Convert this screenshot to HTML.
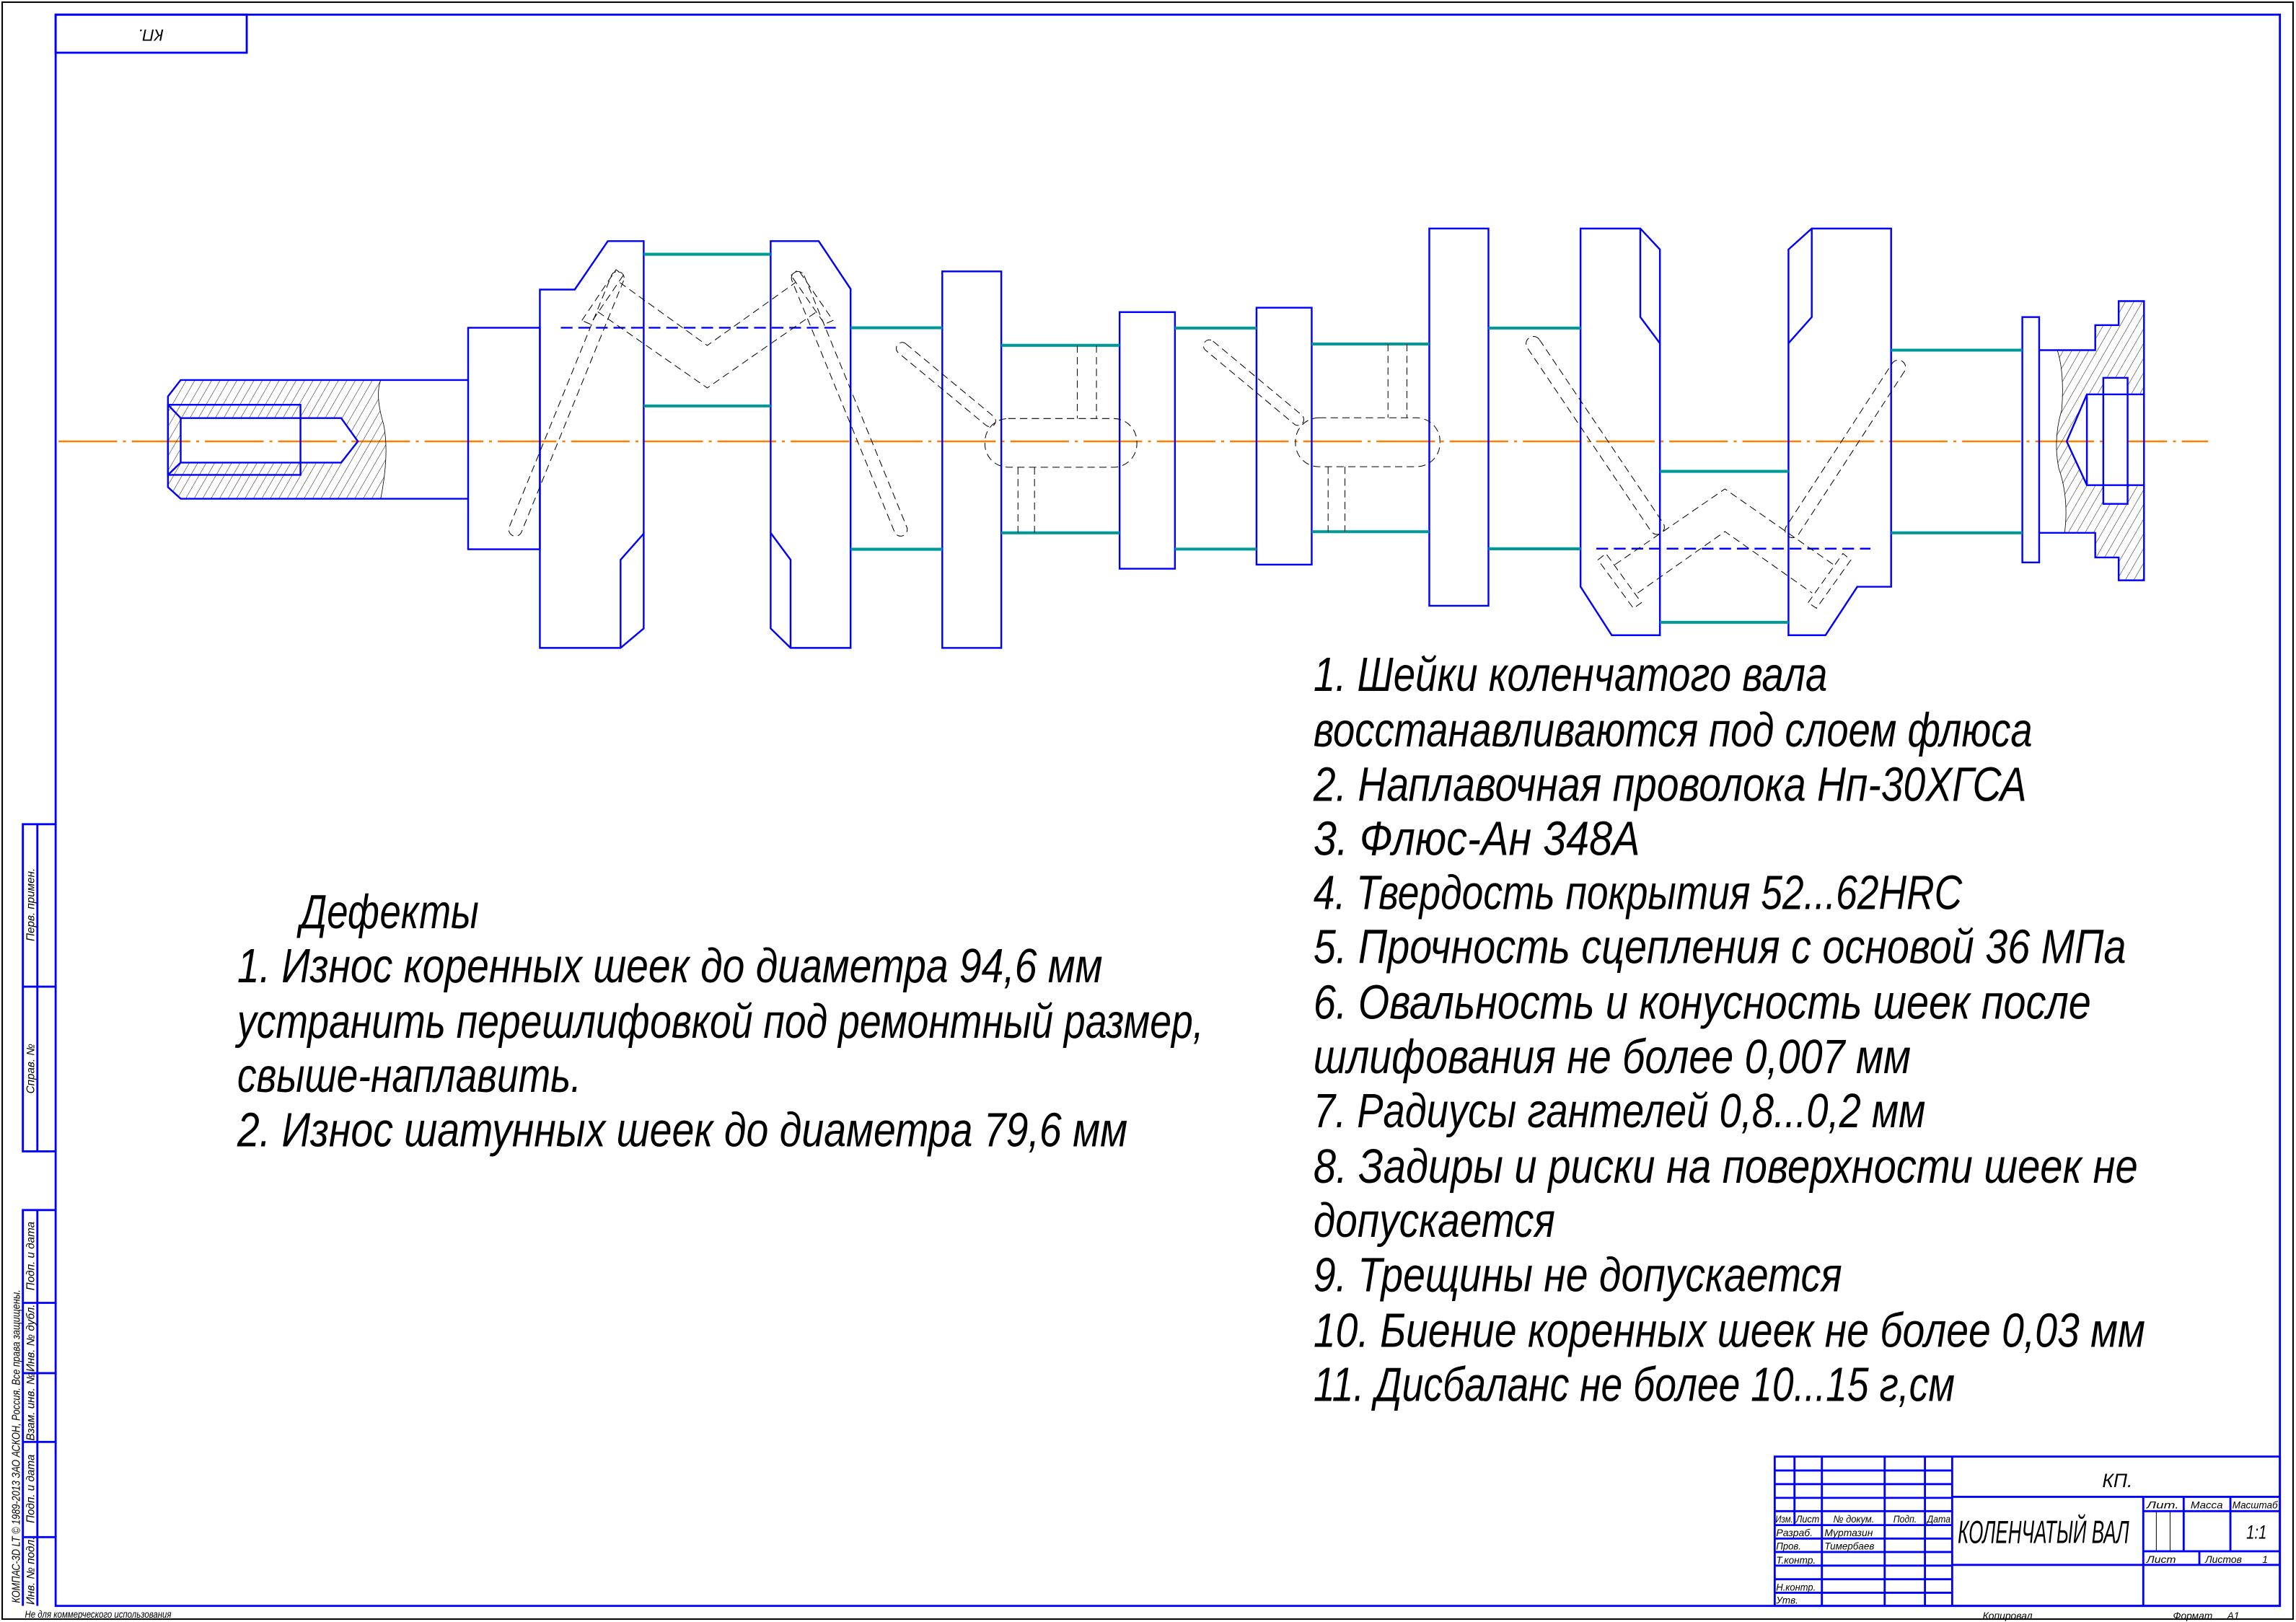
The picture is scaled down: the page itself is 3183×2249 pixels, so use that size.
<!DOCTYPE html>
<html><head><meta charset="utf-8"><style>
html,body{margin:0;padding:0;background:#fff;}
svg{display:block;}
text{font-family:"Liberation Sans","DejaVu Sans",sans-serif;font-style:italic;fill:#000;}
</style></head><body>
<svg xmlns="http://www.w3.org/2000/svg" width="3183" height="2249" viewBox="0 0 1568 1108" preserveAspectRatio="none">
<defs>
<pattern id="h" patternUnits="userSpaceOnUse" width="5" height="5" patternTransform="rotate(30)">
<line x1="0" y1="0" x2="0" y2="5" stroke="#000" stroke-width="0.45"/>
</pattern>
</defs>
<rect x="0" y="0" width="1568" height="1108" fill="#fff"/>
<rect x="1.5" y="1.5" width="1564.5" height="1104.5" fill="none" stroke="#000" stroke-width="1"/>
<g fill="none" stroke="#0000ff" stroke-width="1.4">
<rect x="38" y="10" width="1519" height="1087"/>
<rect x="38" y="10" width="130.5" height="26"/>
<polyline points="38,563 15.6,563 15.6,786.5 38,786.5"/>
<line x1="25.5" y1="563" x2="25.5" y2="786.5"/>
<line x1="15.6" y1="674" x2="38" y2="674"/>
<polyline points="38,826.6 15.6,826.6 15.6,1097"/>
<line x1="25.5" y1="826.6" x2="25.5" y2="1097"/>
<line x1="15.6" y1="890" x2="38" y2="890"/>
<line x1="15.6" y1="938" x2="38" y2="938"/>
<line x1="15.6" y1="985" x2="38" y2="985"/>
<line x1="15.6" y1="1050" x2="38" y2="1050"/>
<rect x="1212" y="995" width="345" height="102"/>
<line x1="1225.5" y1="995" x2="1225.5" y2="1041.8"/>
<line x1="1244.2" y1="995" x2="1244.2" y2="1097"/>
<line x1="1287.1" y1="995" x2="1287.1" y2="1097"/>
<line x1="1314.6" y1="995" x2="1314.6" y2="1097"/>
<line x1="1333.2" y1="995" x2="1333.2" y2="1097"/>
<line x1="1212" y1="1004.5" x2="1333.2" y2="1004.5"/>
<line x1="1212" y1="1013.8" x2="1333.2" y2="1013.8"/>
<line x1="1212" y1="1023.2" x2="1333.2" y2="1023.2"/>
<line x1="1212" y1="1032.3" x2="1333.2" y2="1032.3"/>
<line x1="1212" y1="1041.8" x2="1333.2" y2="1041.8"/>
<line x1="1212" y1="1051" x2="1333.2" y2="1051"/>
<line x1="1212" y1="1060.2" x2="1333.2" y2="1060.2"/>
<line x1="1212" y1="1069.5" x2="1333.2" y2="1069.5"/>
<line x1="1212" y1="1078.8" x2="1333.2" y2="1078.8"/>
<line x1="1212" y1="1088" x2="1333.2" y2="1088"/>
<line x1="1333.2" y1="1022.5" x2="1557" y2="1022.5"/>
<line x1="1333.2" y1="1069" x2="1557" y2="1069"/>
<line x1="1463.7" y1="1022.5" x2="1463.7" y2="1097"/>
<line x1="1491.3" y1="1022.5" x2="1491.3" y2="1059.7"/>
<line x1="1523.2" y1="1022.5" x2="1523.2" y2="1059.7"/>
<line x1="1463.7" y1="1032.3" x2="1557" y2="1032.3"/>
<line x1="1463.7" y1="1059.7" x2="1557" y2="1059.7"/>
<line x1="1502" y1="1059.7" x2="1502" y2="1069"/>
</g>
<g fill="none" stroke="#000" stroke-width="0.5">
<line x1="1472.6" y1="1032.3" x2="1472.6" y2="1059.7"/>
<line x1="1482" y1="1032.3" x2="1482" y2="1059.7"/>
</g>

<line x1="40" y1="301.5" x2="1508" y2="301.5" stroke="#ff8000" stroke-width="1.2" stroke-dasharray="40,4,2,4"/>

<path d="M114.7,270.8 L123.4,259.6 L260,259.6 Q256,270 262,290 Q266,310 260,340.7 L123.4,340.7 L114.7,332.8 Z M123.4,285.6 L233,285.6 L244.4,301.5 L233,316 L123.4,316 Z" fill="url(#h)" fill-rule="evenodd" stroke="none"/>
<path d="M260,259.6 Q256,270 262,290 Q266,310 260,340.7" fill="none" stroke="#000" stroke-width="0.4"/>
<g fill="none" stroke="#0000ff" stroke-width="1.2">
<polyline points="319.7,259.6 123.4,259.6 114.7,270.8 114.7,332.8 123.4,340.7 319.7,340.7"/>
<rect x="114.7" y="276.5" width="90.5" height="47.9"/>
<polyline points="123.4,285.6 233,285.6 244.4,301.5 233,316 123.4,316 123.4,285.6"/>
<line x1="114.7" y1="276.5" x2="123.4" y2="285.6"/>
<line x1="114.7" y1="324.4" x2="123.4" y2="316"/>
<rect x="319.7" y="223.9" width="49" height="151.3"/>
<polygon points="368.7,197.8 392.5,197.8 415.1,164.7 439.6,164.7 439.6,429.3 423.8,442.6 368.7,442.6"/>
<polyline points="423.8,442.6 423.8,382.4 439.6,364.5"/>
<polygon points="526.3,164.7 559.1,164.7 580.9,197.4 580.9,442.6 539.9,442.6 526.3,429.3"/>
<polyline points="539.9,442.6 539.9,382.4 526.3,364"/>
<rect x="643.5" y="185.4" width="40.3" height="257.2"/>
<rect x="764.6" y="213.2" width="37.8" height="175.3"/>
<rect x="858.1" y="210.2" width="37.7" height="175.5"/>
<rect x="976.1" y="156.1" width="40.4" height="257.7"/>
<polygon points="1079.4,156.1 1120.2,156.1 1133.6,170.4 1133.6,433.9 1100.7,433.9 1079.4,400.8"/>
<polyline points="1120.2,156.1 1120.2,216.6 1133.6,234.5"/>
<polygon points="1237.3,156.1 1291.5,156.1 1291.5,400.8 1268.4,400.8 1246.7,433.9 1221.4,433.9 1221.4,170.4"/>
<polyline points="1237.3,156.1 1237.3,216.6 1221.4,234.5"/>
<rect x="1381.1" y="216.6" width="11.5" height="167.6"/>
</g>
<g stroke="#0000ff" stroke-width="1.2" stroke-dasharray="8,4">
<line x1="383" y1="223.9" x2="570.8" y2="223.9"/>
<line x1="1090.2" y1="374.8" x2="1277.4" y2="374.8"/>
</g>
<g stroke="#009999" stroke-width="2">
<line x1="439.6" y1="173.7" x2="526.3" y2="173.7"/>
<line x1="439.6" y1="277.3" x2="526.3" y2="277.3"/>
<line x1="580.9" y1="223.9" x2="643.5" y2="223.9"/>
<line x1="580.9" y1="375.2" x2="643.5" y2="375.2"/>
<line x1="683.8" y1="235.9" x2="764.6" y2="235.9"/>
<line x1="683.8" y1="364" x2="764.6" y2="364"/>
<line x1="802.4" y1="224.1" x2="858.1" y2="224.1"/>
<line x1="802.4" y1="375.1" x2="858.1" y2="375.1"/>
<line x1="895.8" y1="235" x2="976.1" y2="235"/>
<line x1="895.8" y1="363.2" x2="976.1" y2="363.2"/>
<line x1="1016.5" y1="224.1" x2="1079.4" y2="224.1"/>
<line x1="1016.5" y1="374.9" x2="1079.4" y2="374.9"/>
<line x1="1133.6" y1="322" x2="1221.4" y2="322"/>
<line x1="1133.6" y1="425.1" x2="1221.4" y2="425.1"/>
<line x1="1291.5" y1="239.2" x2="1381.1" y2="239.2"/>
<line x1="1291.5" y1="364" x2="1381.1" y2="364"/>
</g>

<path d="M1405,239.2 L1430.9,239.2 L1430.9,222.1 L1446.9,222.1 L1446.9,205.7 L1464.2,205.7 L1464.2,396.4 L1446.9,396.4 L1446.9,380.8 L1430.9,380.8 L1430.9,364 L1410,364 Q1413,340 1406,320 Q1402,300 1408,280 Q1410,255 1405,239.2 Z M1425.2,269.4 L1464.2,269.4 L1464.2,331.4 L1425.2,331.4 L1411.4,301.5 Z" fill="url(#h)" fill-rule="evenodd" stroke="none"/>
<path d="M1410,364 Q1413,340 1406,320 Q1402,300 1408,280 Q1410,255 1405,239.2" fill="none" stroke="#000" stroke-width="0.4"/>
<rect x="1436.4" y="258.1" width="16.6" height="86.1" fill="#fff"/>
<g fill="none" stroke="#0000ff" stroke-width="1.2">
<polyline points="1392.6,239.2 1430.9,239.2 1430.9,222.1 1446.9,222.1 1446.9,205.7 1464.2,205.7 1464.2,396.4 1446.9,396.4 1446.9,380.8 1430.9,380.8 1430.9,364 1392.6,364"/>
<polyline points="1464.2,269.4 1425.2,269.4 1411.4,301.5 1425.2,331.4 1464.2,331.4"/>
<line x1="1425.2" y1="269.4" x2="1425.2" y2="331.4"/>
<rect x="1436.4" y="258.1" width="16.6" height="86.1"/>
</g>

<g fill="none" stroke="#000" stroke-width="0.5" stroke-dasharray="5,3">
<rect x="0" y="-4.5" width="194.4" height="9" rx="4.5" transform="translate(423.4,185.8) rotate(112.1)"/>
<rect x="0" y="-4.5" width="194.5" height="9" rx="4.5" transform="translate(543.3,185.8) rotate(67.8)"/>
<rect x="0" y="-4" width="85.7" height="8" rx="4" transform="translate(613,235.4) rotate(39.6)"/>
<rect x="0" y="-4" width="86.8" height="8" rx="4" transform="translate(822.8,233.6) rotate(39.8)"/>
<rect x="0" y="-5" width="161" height="10" rx="5" transform="translate(1044.4,230.7) rotate(56)"/>
<rect x="0" y="-5" width="142.7" height="10" rx="5" transform="translate(1299.1,246.8) rotate(123)"/>
<polygon points="397.4,218.9 420.7,184.2 425.6,188.1 403,221.4"/>
<polygon points="540.2,188.1 545.1,184.2 568.9,218.9 563.2,221.4"/>
<polyline points="423.3,193 483,236 543.2,193"/>
<polyline points="408.3,213 483,265 557.6,213"/>
<polygon points="1091.3,382.5 1096.7,378.1 1121,411.7 1115.5,415.5"/>
<polygon points="1234.8,411.7 1258.6,378.1 1264,382.5 1240.5,415.5"/>
<polyline points="1102.9,385.7 1178,334 1252.1,385.7"/>
<polyline points="1118.4,405.1 1178,363.1 1237.6,405.1"/>
<rect x="672.6" y="285.9" width="103.8" height="33.3" rx="16"/>
<rect x="884.7" y="285.4" width="98.7" height="33.4" rx="16"/>
<line x1="735.7" y1="235.9" x2="735.7" y2="285.9"/>
<line x1="748.8" y1="235.9" x2="748.8" y2="285.9"/>
<line x1="695.2" y1="319.2" x2="695.2" y2="364"/>
<line x1="706.5" y1="319.2" x2="706.5" y2="364"/>
<line x1="947.9" y1="235" x2="947.9" y2="285.4"/>
<line x1="960.8" y1="235" x2="960.8" y2="285.4"/>
<line x1="907" y1="318.8" x2="907" y2="363.2"/>
<line x1="918.5" y1="318.8" x2="918.5" y2="363.2"/>
</g>

<text x="103" y="23" font-size="11" text-anchor="middle" transform="rotate(180 103 23)" dominant-baseline="middle">КП.</text>

<g font-size="7.5" text-anchor="middle">
<text transform="translate(23.5,618) rotate(-90)">Перв. примен.</text>
<text transform="translate(23.5,730) rotate(-90)">Справ. №</text>
<text transform="translate(23.5,858) rotate(-90)">Подп. и дата</text>
<text transform="translate(23.5,914) rotate(-90)">Инв. № дубл.</text>
<text transform="translate(23.5,961) rotate(-90)">Взам. инв. №</text>
<text transform="translate(23.5,1017) rotate(-90)">Подп. и дата</text>
<text transform="translate(23.5,1073) rotate(-90)">Инв. № подл.</text>
<text transform="translate(13.5,988) rotate(-90)" textLength="214" lengthAdjust="spacingAndGlyphs">КОМПАС-3D LT © 1989-2013 ЗАО АСКОН, Россия. Все права защищены.</text>
</g>
<text x="17" y="1105" font-size="7" textLength="100" lengthAdjust="spacingAndGlyphs">Не для коммерческого использования</text>

<g font-size="6.8">
<text x="1212.5" y="1040" textLength="12" lengthAdjust="spacingAndGlyphs">Изм.</text>
<text x="1226.5" y="1040" textLength="16" lengthAdjust="spacingAndGlyphs">Лист</text>
<text x="1252" y="1040" textLength="28" lengthAdjust="spacingAndGlyphs">№ докум.</text>
<text x="1293" y="1040" textLength="16" lengthAdjust="spacingAndGlyphs">Подп.</text>
<text x="1316" y="1040" textLength="16" lengthAdjust="spacingAndGlyphs">Дата</text>
<text x="1213" y="1049.5" textLength="25" lengthAdjust="spacingAndGlyphs">Разраб.</text>
<text x="1246" y="1049.5" textLength="33" lengthAdjust="spacingAndGlyphs">Муртазин</text>
<text x="1213" y="1058.5" textLength="17" lengthAdjust="spacingAndGlyphs">Пров.</text>
<text x="1246" y="1058.5" textLength="34" lengthAdjust="spacingAndGlyphs">Тимербаев</text>
<text x="1213" y="1068" textLength="27" lengthAdjust="spacingAndGlyphs">Т.контр.</text>
<text x="1213" y="1086.5" textLength="27" lengthAdjust="spacingAndGlyphs">Н.контр.</text>
<text x="1213" y="1095.5" textLength="15" lengthAdjust="spacingAndGlyphs">Утв.</text>
<text x="1466" y="1030.5" textLength="22" lengthAdjust="spacingAndGlyphs">Лит.</text>
<text x="1496" y="1030.5" textLength="22" lengthAdjust="spacingAndGlyphs">Масса</text>
<text x="1524.5" y="1030.5" textLength="31" lengthAdjust="spacingAndGlyphs">Масштаб</text>
<text x="1466" y="1067.5" textLength="20" lengthAdjust="spacingAndGlyphs">Лист</text>
<text x="1506" y="1067.5" textLength="25" lengthAdjust="spacingAndGlyphs">Листов</text>
<text x="1545" y="1067.5">1</text>
<text x="1354" y="1106" textLength="34" lengthAdjust="spacingAndGlyphs">Копировал</text>
<text x="1484" y="1106" textLength="27" lengthAdjust="spacingAndGlyphs">Формат</text>
<text x="1521" y="1106">A1</text>
</g>
<text x="1446" y="1016" font-size="13" text-anchor="middle">КП.</text>
<text x="1337" y="1054" font-size="22" textLength="117" lengthAdjust="spacingAndGlyphs">КОЛЕНЧАТЫЙ ВАЛ</text>
<text x="1534" y="1051" font-size="13" textLength="14" lengthAdjust="spacingAndGlyphs">1:1</text>

<g font-size="33">
<text x="205" y="634" textLength="122" lengthAdjust="spacingAndGlyphs">Дефекты</text>
<text x="162" y="671" textLength="591" lengthAdjust="spacingAndGlyphs">1. Износ коренных шеек до диаметра 94,6 мм</text>
<text x="162" y="709" textLength="660" lengthAdjust="spacingAndGlyphs">устранить перешлифовкой под ремонтный размер,</text>
<text x="162" y="746" textLength="235" lengthAdjust="spacingAndGlyphs">свыше-наплавить.</text>
<text x="162" y="783" textLength="608" lengthAdjust="spacingAndGlyphs">2. Износ шатунных шеек до диаметра 79,6 мм</text>
</g>
<g font-size="33">
<text x="897" y="472" textLength="351" lengthAdjust="spacingAndGlyphs">1. Шейки коленчатого вала</text>
<text x="897" y="510" textLength="491" lengthAdjust="spacingAndGlyphs">восстанавливаются под слоем флюса</text>
<text x="897" y="547" textLength="487" lengthAdjust="spacingAndGlyphs">2. Наплавочная проволока Нп-30ХГСА</text>
<text x="897" y="584" textLength="223" lengthAdjust="spacingAndGlyphs">3. Флюс-Ан 348А</text>
<text x="897" y="621" textLength="443" lengthAdjust="spacingAndGlyphs">4. Твердость покрытия 52...62HRC</text>
<text x="897" y="658" textLength="555" lengthAdjust="spacingAndGlyphs">5. Прочность сцепления с основой 36 МПа</text>
<text x="897" y="696" textLength="531" lengthAdjust="spacingAndGlyphs">6. Овальность и конусность шеек после</text>
<text x="897" y="733" textLength="408" lengthAdjust="spacingAndGlyphs">шлифования не более 0,007 мм</text>
<text x="897" y="770" textLength="418" lengthAdjust="spacingAndGlyphs">7. Радиусы гантелей 0,8...0,2 мм</text>
<text x="897" y="808" textLength="563" lengthAdjust="spacingAndGlyphs">8. Задиры и риски на поверхности шеек не</text>
<text x="897" y="845" textLength="165" lengthAdjust="spacingAndGlyphs">допускается</text>
<text x="897" y="882" textLength="361" lengthAdjust="spacingAndGlyphs">9. Трещины не допускается</text>
<text x="897" y="920" textLength="568" lengthAdjust="spacingAndGlyphs">10. Биение коренных шеек не более 0,03 мм</text>
<text x="897" y="957" textLength="438" lengthAdjust="spacingAndGlyphs">11. Дисбаланс не более 10...15 г,см</text>
</g>
</svg>
</body></html>
